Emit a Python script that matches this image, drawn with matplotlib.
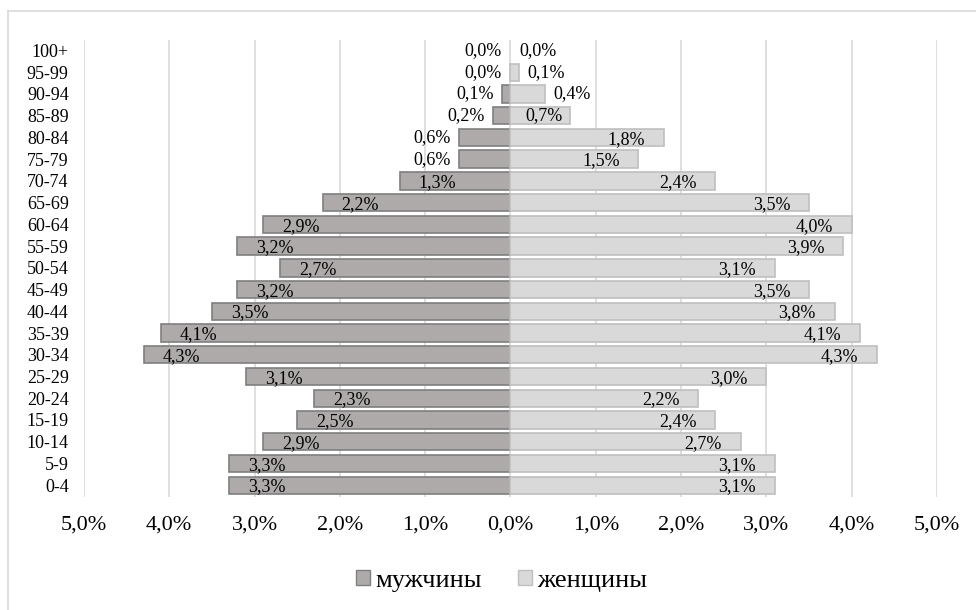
import matplotlib.pyplot as plt
from matplotlib.lines import Line2D
from matplotlib.patches import Patch

plt.rcParams["font.family"] = ["Liberation Serif", "DejaVu Serif"]

ages = ["0-4", "5-9", "10-14", "15-19", "20-24", "25-29", "30-34", "35-39",
        "40-44", "45-49", "50-54", "55-59", "60-64", "65-69", "70-74", "75-79",
        "80-84", "85-89", "90-94", "95-99", "100+"]
men = [3.3, 3.3, 2.9, 2.5, 2.3, 3.1, 4.3, 4.1, 3.5, 3.2, 2.7, 3.2, 2.9, 2.2,
       1.3, 0.6, 0.6, 0.2, 0.1, 0.0, 0.0]
women = [3.1, 3.1, 2.7, 2.4, 2.2, 3.0, 4.3, 4.1, 3.8, 3.5, 3.1, 3.9, 4.0, 3.5,
         2.4, 1.5, 1.8, 0.7, 0.4, 0.1, 0.0]
xticks = [-5, -4, -3, -2, -1, 0, 1, 2, 3, 4, 5]


def fmt(v):
    return f"{abs(v):.1f}%".replace(".", ",")


fig = plt.figure(figsize=(9.76, 6.1), dpi=100)
ax = fig.add_axes([0.086, 0.185, 0.874, 0.749])

y = list(range(len(ages)))
ax.barh(y, [-v for v in men], height=0.8, color="#aeaaaa", edgecolor="#7f7f7f",
        linewidth=[1.2 if v > 0 else 0 for v in men], zorder=2)
ax.barh(y, women, height=0.8, color="#d9d9d9", edgecolor="#bfbfbf",
        linewidth=[1.2 if v > 0 else 0 for v in women], zorder=2)

lab = 13
for i, (m, w) in enumerate(zip(men, women)):
    if m >= 1.0:
        ax.text(-m + 0.22, i - 0.08, fmt(m), ha="left", va="center", fontsize=lab)
    else:
        ax.text(-m - 0.1, i, fmt(m), ha="right", va="center", fontsize=lab)
    if w >= 1.0:
        ax.text(w - 0.22, i - 0.08, fmt(w), ha="right", va="center", fontsize=lab)
    elif w >= 0.7:
        ax.text(w - 0.09, i, fmt(w), ha="right", va="center", fontsize=lab)
    else:
        ax.text(w + 0.1, i, fmt(w), ha="left", va="center", fontsize=lab)

ax.set_xlim(-5, 5)
ax.set_ylim(-0.55, 20.47)
ax.set_xticks(xticks)
ax.set_xticklabels([fmt(t) for t in xticks], fontsize=16)
ax.set_yticks(y)
ax.set_yticklabels(ages, fontsize=13)
ax.tick_params(axis="x", length=0, pad=13)
ax.tick_params(axis="y", length=0, pad=11)
ax.grid(axis="x", color="#d9d9d9", linewidth=1.2, zorder=0)
for s in ax.spines.values():
    s.set_visible(False)

handles = [Patch(facecolor="#aeaaaa", edgecolor="#7f7f7f", label="мужчины"),
           Patch(facecolor="#d9d9d9", edgecolor="#bfbfbf", label="женщины")]
fig.legend(handles=handles, loc="center", bbox_to_anchor=(0.514, 0.048), ncol=2,
           frameon=False, fontsize=19, handlelength=0.55, handleheight=0.55,
           handletextpad=0.2, columnspacing=1.35)

fig.add_artist(Line2D([8 / 976, 8 / 976], [0, 1 - 11 / 610], color="#d9d9d9",
                      linewidth=1.2, transform=fig.transFigure))
fig.add_artist(Line2D([8 / 976, 1], [1 - 11 / 610, 1 - 11 / 610], color="#d9d9d9",
                      linewidth=1.2, transform=fig.transFigure))

fig.savefig("out.png", dpi=100)
